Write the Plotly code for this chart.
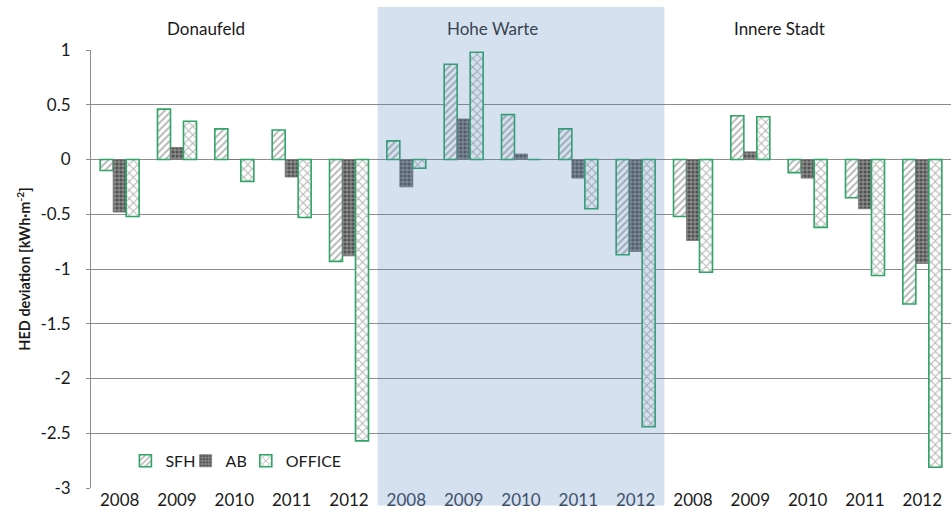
import plotly.graph_objects as go

# Sites and years (one group of three bars per site/year)
sites = ["Donaufeld", "Hohe Warte", "Innere Stadt"]
years = ["2008", "2009", "2010", "2011", "2012"]

# HED deviation per building type, ordered site by site, year by year
sfh = [-0.10, 0.46, 0.28, 0.27, -0.93,
       0.17, 0.87, 0.41, 0.28, -0.87,
       -0.52, 0.40, -0.12, -0.35, -1.32]
ab = [-0.48, 0.11, 0.00, -0.16, -0.88,
      -0.25, 0.37, 0.05, -0.17, -0.84,
      -0.74, 0.07, -0.17, -0.45, -0.95]
office = [-0.52, 0.35, -0.20, -0.53, -2.57,
          -0.08, 0.98, 0.00, -0.45, -2.44,
          -1.03, 0.39, -0.62, -1.06, -2.81]

y_tick_vals = [1, 0.5, 0, -0.5, -1, -1.5, -2, -2.5, -3]
y_tick_text = ["1", "0.5", "0", "-0.5", "-1", "-1.5", "-2", "-2.5", "-3"]

HIGHLIGHT_SITE = 1  # index of the site drawn on the shaded band

x_pos = list(range(len(sites) * len(years)))
text_dark = "#1a1a1a"
text_dim = "#3a4352"
x_text = [
    f'<span style="color:{text_dim}">{y}</span>' if s == HIGHLIGHT_SITE else y
    for s in range(len(sites)) for y in years
]

green = "#2FA566"
grid = "#8c8c8c"
font_family = "Lato, 'Open Sans', sans-serif"

fig = go.Figure()
fig.add_trace(go.Bar(
    x=x_pos, y=sfh, name="SFH", legend="legend",
    marker=dict(color="white", line=dict(color=green, width=1.6),
                pattern=dict(shape="/", fgcolor="#6e6e6e", bgcolor="white",
                             size=5, solidity=0.4)),
))
fig.add_trace(go.Bar(
    x=x_pos, y=ab, name="AB", legend="legend2",
    marker=dict(color="#6a6a6a", line=dict(color="#777777", width=0.8),
                pattern=dict(shape=".", fgcolor="#1a1a1a", bgcolor="#8a8a8a",
                             size=4, solidity=0.5)),
))
fig.add_trace(go.Bar(
    x=x_pos, y=office, name="OFFICE", legend="legend3",
    marker=dict(color="white", line=dict(color=green, width=1.6),
                pattern=dict(shape="x", fgcolor="#707070", bgcolor="white",
                             size=6, solidity=0.35)),
))

# Shaded band marking the middle site, laid over its bars
n = len(years)
fig.add_shape(type="rect", xref="x", yref="paper",
              x0=HIGHLIGHT_SITE * n - 0.5, x1=(HIGHLIGHT_SITE + 1) * n - 0.5,
              y0=-0.04, y1=1.098,
              fillcolor="rgb(79,129,189)", opacity=0.24,
              line=dict(width=0), layer="above")

# Site names above each block of years
for i, name in enumerate(sites):
    fig.add_annotation(x=i * n + 1.5, y=1.05, xref="x", yref="paper",
                       text=name, showarrow=False,
                       font=dict(size=17, family=font_family,
                                 color=text_dim if i == HIGHLIGHT_SITE else text_dark),
                       yanchor="middle")

legend_common = dict(orientation="h", y=0.062, xanchor="left", yanchor="middle",
                     bgcolor="rgba(0,0,0,0)", font=dict(size=16), itemwidth=30)

fig.update_layout(
    width=952, height=529,
    margin=dict(l=91, r=1, t=50, b=41),
    paper_bgcolor="white", plot_bgcolor="white",
    barmode="group", bargap=0.32, bargroupgap=0.0,
    font=dict(family=font_family, size=17, color=text_dark),
    legend=dict(x=0.040, **legend_common),
    legend2=dict(x=0.110, **legend_common),
    legend3=dict(x=0.180, **legend_common),
    showlegend=True,
)
fig.update_xaxes(
    range=[-0.5, 14.5], tickmode="array", tickvals=x_pos, ticktext=x_text,
    showgrid=False, zeroline=False, showline=False, ticks="",
    tickfont=dict(size=17), ticklabelstandoff=0,
)
fig.update_yaxes(
    range=[-3, 1], tickmode="array", tickvals=y_tick_vals, ticktext=y_tick_text,
    showgrid=True, gridcolor=grid, gridwidth=1,
    zeroline=True, zerolinecolor=grid, zerolinewidth=1,
    showline=True, linecolor=grid, linewidth=1,
    ticks="outside", ticklen=4, tickcolor=grid,
    tickfont=dict(size=17), ticklabelstandoff=12,
    title=dict(text="<b>HED deviation [kWh·m<sup>-2</sup>]</b>",
               font=dict(size=14.5), standoff=6),
)

fig.write_html("out.html")
